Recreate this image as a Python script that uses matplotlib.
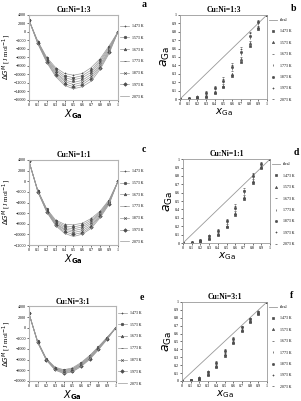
import matplotlib
matplotlib.use('Agg')
import matplotlib.pyplot as plt

plt.rcParams['font.family'] = ['Liberation Serif', 'DejaVu Serif']

x_ga = [0, 0.1, 0.2, 0.3, 0.4, 0.5, 0.6, 0.7, 0.8, 0.9, 1]
temps = ['1473 K', '1573 K', '1673 K', '1773 K', '1873 K', '1973 K', '2073 K']
titles = ['Cu:Ni=1:3', 'Cu:Ni=1:1', 'Cu:Ni=3:1']

# mixing gibbs energy, J/mol (one row per temperature)
dg_13 = [
    [2800, -2200, -6000, -8400, -9800, -10200, -9800, -8400, -6300, -3300, 0],
    [2800, -2300, -6200, -8800, -10300, -10800, -10300, -9000, -6700, -3600, 0],
    [2800, -2400, -6400, -9100, -10800, -11300, -10800, -9500, -7100, -3900, 0],
    [2800, -2500, -6600, -9500, -11300, -11900, -11400, -10000, -7600, -4200, 0],
    [2800, -2600, -6800, -9800, -11700, -12400, -11900, -10500, -8000, -4500, 0],
    [2800, -2700, -7000, -10200, -12200, -12900, -12400, -11000, -8400, -4800, 0],
    [2800, -2800, -7200, -10500, -12600, -13400, -12900, -11600, -8800, -5100, 0],
]
dg_11 = [
    [3800, -1700, -5200, -7300, -8100, -8200, -7900, -7000, -5600, -3500, 0],
    [3800, -1750, -5300, -7500, -8400, -8600, -8250, -7300, -5800, -3650, 0],
    [3800, -1800, -5400, -7700, -8700, -8950, -8600, -7600, -6000, -3800, 0],
    [3800, -1850, -5500, -7900, -9000, -9300, -8950, -7900, -6200, -3950, 0],
    [3800, -1900, -5600, -8000, -9200, -9650, -9300, -8250, -6400, -4050, 0],
    [3800, -1950, -5700, -8200, -9500, -10000, -9650, -8550, -6600, -4200, 0],
    [3800, -2000, -5800, -8350, -9800, -10400, -9950, -8850, -6850, -4350, 0],
]
dg_31 = [
    [2700, -2500, -5800, -7400, -7900, -7550, -6550, -5200, -3550, -1800, 0],
    [2700, -2550, -5850, -7500, -8000, -7700, -6700, -5300, -3650, -1850, 0],
    [2700, -2600, -5900, -7600, -8150, -7800, -6800, -5450, -3750, -1900, 0],
    [2700, -2650, -5950, -7650, -8250, -7950, -6950, -5600, -3850, -1950, 0],
    [2700, -2700, -6000, -7750, -8350, -8050, -7050, -5700, -3950, -2050, 0],
    [2700, -2750, -6050, -7850, -8500, -8200, -7200, -5800, -4050, -2100, 0],
    [2700, -2800, -6100, -7950, -8600, -8300, -7300, -5950, -4150, -2200, 0],
]

# Ga activity
a_13 = [
    [0, 0.005, 0.015, 0.03, 0.07, 0.14, 0.27, 0.44, 0.63, 0.83, 1],
    [0, 0.006, 0.018, 0.04, 0.085, 0.16, 0.30, 0.47, 0.66, 0.85, 1],
    [0, 0.007, 0.021, 0.05, 0.10, 0.18, 0.33, 0.50, 0.69, 0.87, 1],
    [0, 0.008, 0.025, 0.06, 0.115, 0.20, 0.36, 0.53, 0.72, 0.89, 1],
    [0, 0.009, 0.029, 0.07, 0.13, 0.22, 0.38, 0.56, 0.75, 0.91, 1],
    [0, 0.010, 0.033, 0.08, 0.145, 0.24, 0.41, 0.59, 0.78, 0.925, 1],
    [0, 0.011, 0.037, 0.09, 0.16, 0.26, 0.43, 0.62, 0.80, 0.94, 1],
]
a_11 = [
    [0, 0.005, 0.020, 0.050, 0.100, 0.190, 0.34, 0.530, 0.72, 0.890, 1],
    [0, 0.006, 0.023, 0.058, 0.112, 0.207, 0.36, 0.552, 0.74, 0.903, 1],
    [0, 0.007, 0.026, 0.067, 0.124, 0.223, 0.38, 0.573, 0.76, 0.917, 1],
    [0, 0.008, 0.029, 0.075, 0.135, 0.240, 0.40, 0.595, 0.78, 0.930, 1],
    [0, 0.009, 0.032, 0.083, 0.147, 0.257, 0.42, 0.617, 0.80, 0.943, 1],
    [0, 0.010, 0.035, 0.092, 0.158, 0.273, 0.44, 0.638, 0.82, 0.957, 1],
    [0, 0.011, 0.038, 0.100, 0.170, 0.290, 0.46, 0.660, 0.84, 0.970, 1],
]
a_31 = [
    [0, 0.008, 0.020, 0.080, 0.180, 0.320, 0.480, 0.630, 0.750, 0.850, 1],
    [0, 0.009, 0.025, 0.088, 0.192, 0.335, 0.493, 0.642, 0.758, 0.857, 1],
    [0, 0.010, 0.030, 0.097, 0.203, 0.350, 0.507, 0.653, 0.767, 0.863, 1],
    [0, 0.011, 0.035, 0.105, 0.215, 0.365, 0.520, 0.665, 0.775, 0.870, 1],
    [0, 0.012, 0.040, 0.113, 0.227, 0.380, 0.533, 0.677, 0.783, 0.877, 1],
    [0, 0.013, 0.045, 0.122, 0.238, 0.395, 0.547, 0.688, 0.792, 0.883, 1],
    [0, 0.015, 0.050, 0.130, 0.250, 0.410, 0.560, 0.700, 0.800, 0.890, 1],
]

tick_txt = ['0', '0.1', '0.2', '0.3', '0.4', '0.5', '0.6', '0.7', '0.8', '0.9', '1']
dg_marks = ['+', 'o', '^', '_', 'x', 'D', '']
a_marks = ['s', '^', '_', '|', 'o', '+', '_']


def gibbs_panel(pos, data, ymin, title, letter, leg_y):
    ax = fig.add_axes(pos)
    for i, row in enumerate(data):
        ax.plot(x_ga, row, color='0.6', lw=0.5, marker=dg_marks[i], ms=1.8,
                mec='0.3', mfc='0.3', mew=0.5, label=temps[i])
    ax.set_xlim(0, 1)
    ax.set_ylim(ymin, 4000)
    ax.set_xticks(x_ga)
    ax.set_xticklabels(tick_txt)
    ax.set_yticks(range(ymin, 4001, 2000))
    ax.tick_params(labelsize=3, length=1.2, width=0.4, pad=1)
    for s in ax.spines.values():
        s.set_color('0.7')
        s.set_linewidth(0.8)
    ax.set_title(title, fontsize=5.5, fontweight='bold', pad=2)
    ax.set_xlabel(r'$\mathbf{\mathit{X}_{Ga}}$', fontsize=7, labelpad=0)
    ax.set_ylabel(r'$\Delta G^M$ [J mol$^{-1}$]', fontsize=5, labelpad=0)
    ax.legend(loc='upper left', bbox_to_anchor=(1.0, leg_y), fontsize=2.8,
              frameon=False, handlelength=2.2, labelspacing=2.0, borderaxespad=0.2)
    ax.text(1.27, 1.09, letter, transform=ax.transAxes, fontsize=7, fontweight='bold')
    return ax


def act_panel(pos, data, title, letter):
    ax = fig.add_axes(pos)
    ax.plot([0, 1], [0, 1], color='0.6', lw=0.6, label='ideal')
    for i, row in enumerate(data):
        ax.plot(x_ga, row, ls='none', marker=a_marks[i], ms=1.6, color='0.3',
                mew=0.5, label=temps[i])
    ax.set_xlim(0, 1)
    ax.set_ylim(0, 1)
    ax.set_xticks(x_ga)
    ax.set_xticklabels(tick_txt)
    ax.set_yticks(x_ga)
    ax.set_yticklabels(tick_txt)
    ax.tick_params(labelsize=3, length=1.2, width=0.4, pad=1)
    for s in ax.spines.values():
        s.set_color('0.6')
        s.set_linewidth(0.6)
    ax.set_title(title, fontsize=5.5, fontweight='bold', pad=2)
    ax.set_xlabel(r'$x_{\mathrm{Ga}}$', fontsize=7.5, labelpad=0)
    ax.set_ylabel(r'$a_{\mathrm{Ga}}$', fontsize=9, labelpad=0)
    ax.legend(loc='upper left', bbox_to_anchor=(1.0, 0.99), fontsize=2.8,
              frameon=False, handlelength=2.0, labelspacing=1.9, borderaxespad=0.2)
    ax.text(1.27, 1.05, letter, transform=ax.transAxes, fontsize=7, fontweight='bold')
    return ax


fig = plt.figure(figsize=(3.01, 4.01), dpi=100)

gibbs_panel([0.096, 0.751, 0.296, 0.212], dg_13, -16000, titles[0], 'a', 0.92)
act_panel([0.598, 0.753, 0.289, 0.210], a_13, titles[0], 'b')
gibbs_panel([0.096, 0.389, 0.296, 0.212], dg_11, -12000, titles[1], 'c', 0.92)
act_panel([0.608, 0.394, 0.289, 0.209], a_11, titles[1], 'd')
gibbs_panel([0.096, 0.050, 0.289, 0.186], dg_31, -10000, titles[2], 'e', 0.97)
act_panel([0.605, 0.050, 0.282, 0.197], a_31, titles[2], 'f')

fig.savefig('out.png', dpi=100)
